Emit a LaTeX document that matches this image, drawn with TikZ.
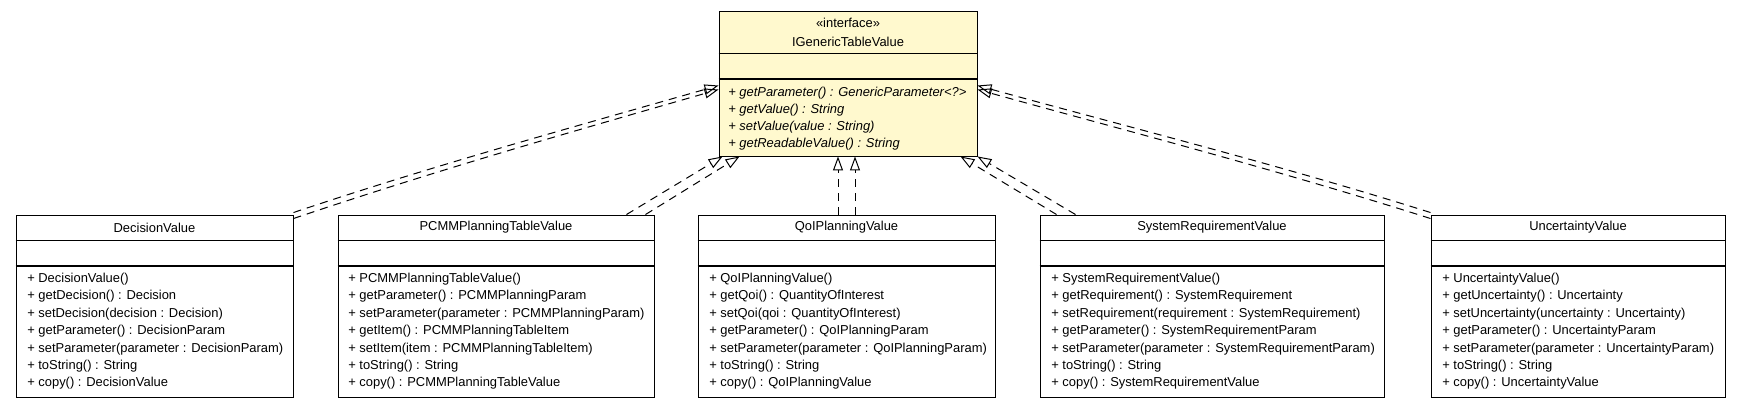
\documentclass[tikz,border=0pt]{standalone}
\usepackage{fontspec}
\setmainfont{Liberation Sans}
\usetikzlibrary{arrows.meta}
\definecolor{ifcfill}{RGB}{255,249,206}
\tikzset{
  umlbox/.style={draw=black, line width=0.7pt, inner sep=0pt, fill=white},
  septhin/.style={draw=black, line width=0.7pt},
  septhick/.style={draw=black, line width=1.5pt},
  ttl/.style={inner sep=0pt, anchor=center, font=\fontsize{9.7pt}{11pt}\selectfont},
  mem/.style={inner sep=0pt, anchor=base west, font=\fontsize{9.7pt}{11pt}\selectfont},
  imem/.style={mem, font=\fontsize{9.7pt}{11pt}\selectfont\itshape},
  realize/.style={draw=black, line width=0.75pt, dash pattern=on 6pt off 4.5pt,
    -{Triangle[open, length=10.5pt, width=7.5pt]}},
}
\begin{document}
\begin{tikzpicture}[x=0.75pt, y=-0.75pt]
\useasboundingbox (0,0) rectangle (1739,405);

% interface
\node[umlbox, fill=ifcfill, minimum width=193.5pt, minimum height=108.75pt] (ifc) at (848,83.5) {};
\draw[septhin] ([yshift=-32.25pt]ifc.north west) -- ([yshift=-32.25pt]ifc.north east);
\draw[septhick] ([yshift=-51pt]ifc.north west) -- ([yshift=-51pt]ifc.north east);
\node[ttl] (ifc-st) at (848,23) {«interface»};
\node[ttl] (ifc-t) at (848,42) {IGenericTableValue};
\foreach \t [count=\k from 0] in {+ getParameter() : GenericParameter<?>, + getValue() : String, + setValue(value : String), + getReadableValue() : String}
  \node[imem] (ifc-m\k) at (728,96.2+17.2*\k) {\t};

% classes
\node[umlbox, minimum width=207.75pt, minimum height=136.5pt] (dec) at (154.5,306) {};
\node[umlbox, minimum width=237pt, minimum height=136.5pt] (pcmm) at (496,306) {};
\node[umlbox, minimum width=222.75pt, minimum height=136.5pt] (qoi) at (846.5,306) {};
\node[umlbox, minimum width=258pt, minimum height=136.5pt] (sys) at (1212,306) {};
\node[umlbox, minimum width=220.5pt, minimum height=136.5pt] (unc) at (1578,306) {};

\foreach \b in {dec,pcmm,qoi,sys,unc}{
  \draw[septhin] ([yshift=-19.5pt]\b.north west) -- ([yshift=-19.5pt]\b.north east);
  \draw[septhick] ([yshift=-38.25pt]\b.north west) -- ([yshift=-38.25pt]\b.north east);
}

\node[ttl] (dec-t) at (154.5,227.5) {DecisionValue};
\node[ttl] (pcmm-t) at (496,227.5) {PCMMPlanningTableValue};
\node[ttl] (qoi-t) at (846.5,227.5) {QoIPlanningValue};
\node[ttl] (sys-t) at (1212,227.5) {SystemRequirementValue};
\node[ttl] (unc-t) at (1578,227.5) {UncertaintyValue};

\foreach \t [count=\k from 0] in {+ DecisionValue(), + getDecision() : Decision, + setDecision(decision : Decision), + getParameter() : DecisionParam, + setParameter(parameter : DecisionParam), + toString() : String, + copy() : DecisionValue}
  \node[mem] (dec-m\k) at (27,282.5+17.4*\k) {\t};
\foreach \t [count=\k from 0] in {+ PCMMPlanningTableValue(), + getParameter() : PCMMPlanningParam, + setParameter(parameter : PCMMPlanningParam), + getItem() : PCMMPlanningTableItem, + setItem(item : PCMMPlanningTableItem), + toString() : String, + copy() : PCMMPlanningTableValue}
  \node[mem] (pcmm-m\k) at (348,282.5+17.4*\k) {\t};
\foreach \t [count=\k from 0] in {+ QoIPlanningValue(), + getQoi() : QuantityOfInterest, + setQoi(qoi : QuantityOfInterest), + getParameter() : QoIPlanningParam, + setParameter(parameter : QoIPlanningParam), + toString() : String, + copy() : QoIPlanningValue}
  \node[mem] (qoi-m\k) at (709,282.5+17.4*\k) {\t};
\foreach \t [count=\k from 0] in {+ SystemRequirementValue(), + getRequirement() : SystemRequirement, + setRequirement(requirement : SystemRequirement), + getParameter() : SystemRequirementParam, + setParameter(parameter : SystemRequirementParam), + toString() : String, + copy() : SystemRequirementValue}
  \node[mem] (sys-m\k) at (1051,282.5+17.4*\k) {\t};
\foreach \t [count=\k from 0] in {+ UncertaintyValue(), + getUncertainty() : Uncertainty, + setUncertainty(uncertainty : Uncertainty), + getParameter() : UncertaintyParam, + setParameter(parameter : UncertaintyParam), + toString() : String, + copy() : UncertaintyValue}
  \node[mem] (unc-m\k) at (1442,282.5+17.4*\k) {\t};

% realizations (each drawn twice, as in the reference)
\draw[realize] ([yshift=1.5pt]dec.north east) .. controls (435,165) and (577,126) .. ([yshift=-1.5pt]ifc.west);
\draw[realize] ([yshift=-3pt]dec.north east) .. controls (437,170) and (578,130) .. ([yshift=-4.5pt]ifc.west);

\draw[realize] ([xshift=-21pt]pcmm.north east) -- ([xshift=3pt]ifc.south west);
\draw[realize] ([xshift=-6.75pt]pcmm.north east) -- ([xshift=15.75pt]ifc.south west);

\draw[realize] ([xshift=-6.375pt]qoi.north) -- ([xshift=-7.5pt]ifc.south);
\draw[realize] ([xshift=6.375pt]qoi.north) -- ([xshift=5.25pt]ifc.south);

\draw[realize] ([xshift=12.75pt]sys.north west) -- ([xshift=-12.75pt]ifc.south east);
\draw[realize] ([xshift=27pt]sys.north west) -- ([xshift=0pt]ifc.south east);

\draw[realize] ([yshift=1.5pt]unc.north west) .. controls (1280,165) and (1128,127) .. ([yshift=-1.5pt]ifc.east);
\draw[realize] ([yshift=-3pt]unc.north west) .. controls (1278,170) and (1127,131) .. ([yshift=-4.5pt]ifc.east);
\end{tikzpicture}
\end{document}
